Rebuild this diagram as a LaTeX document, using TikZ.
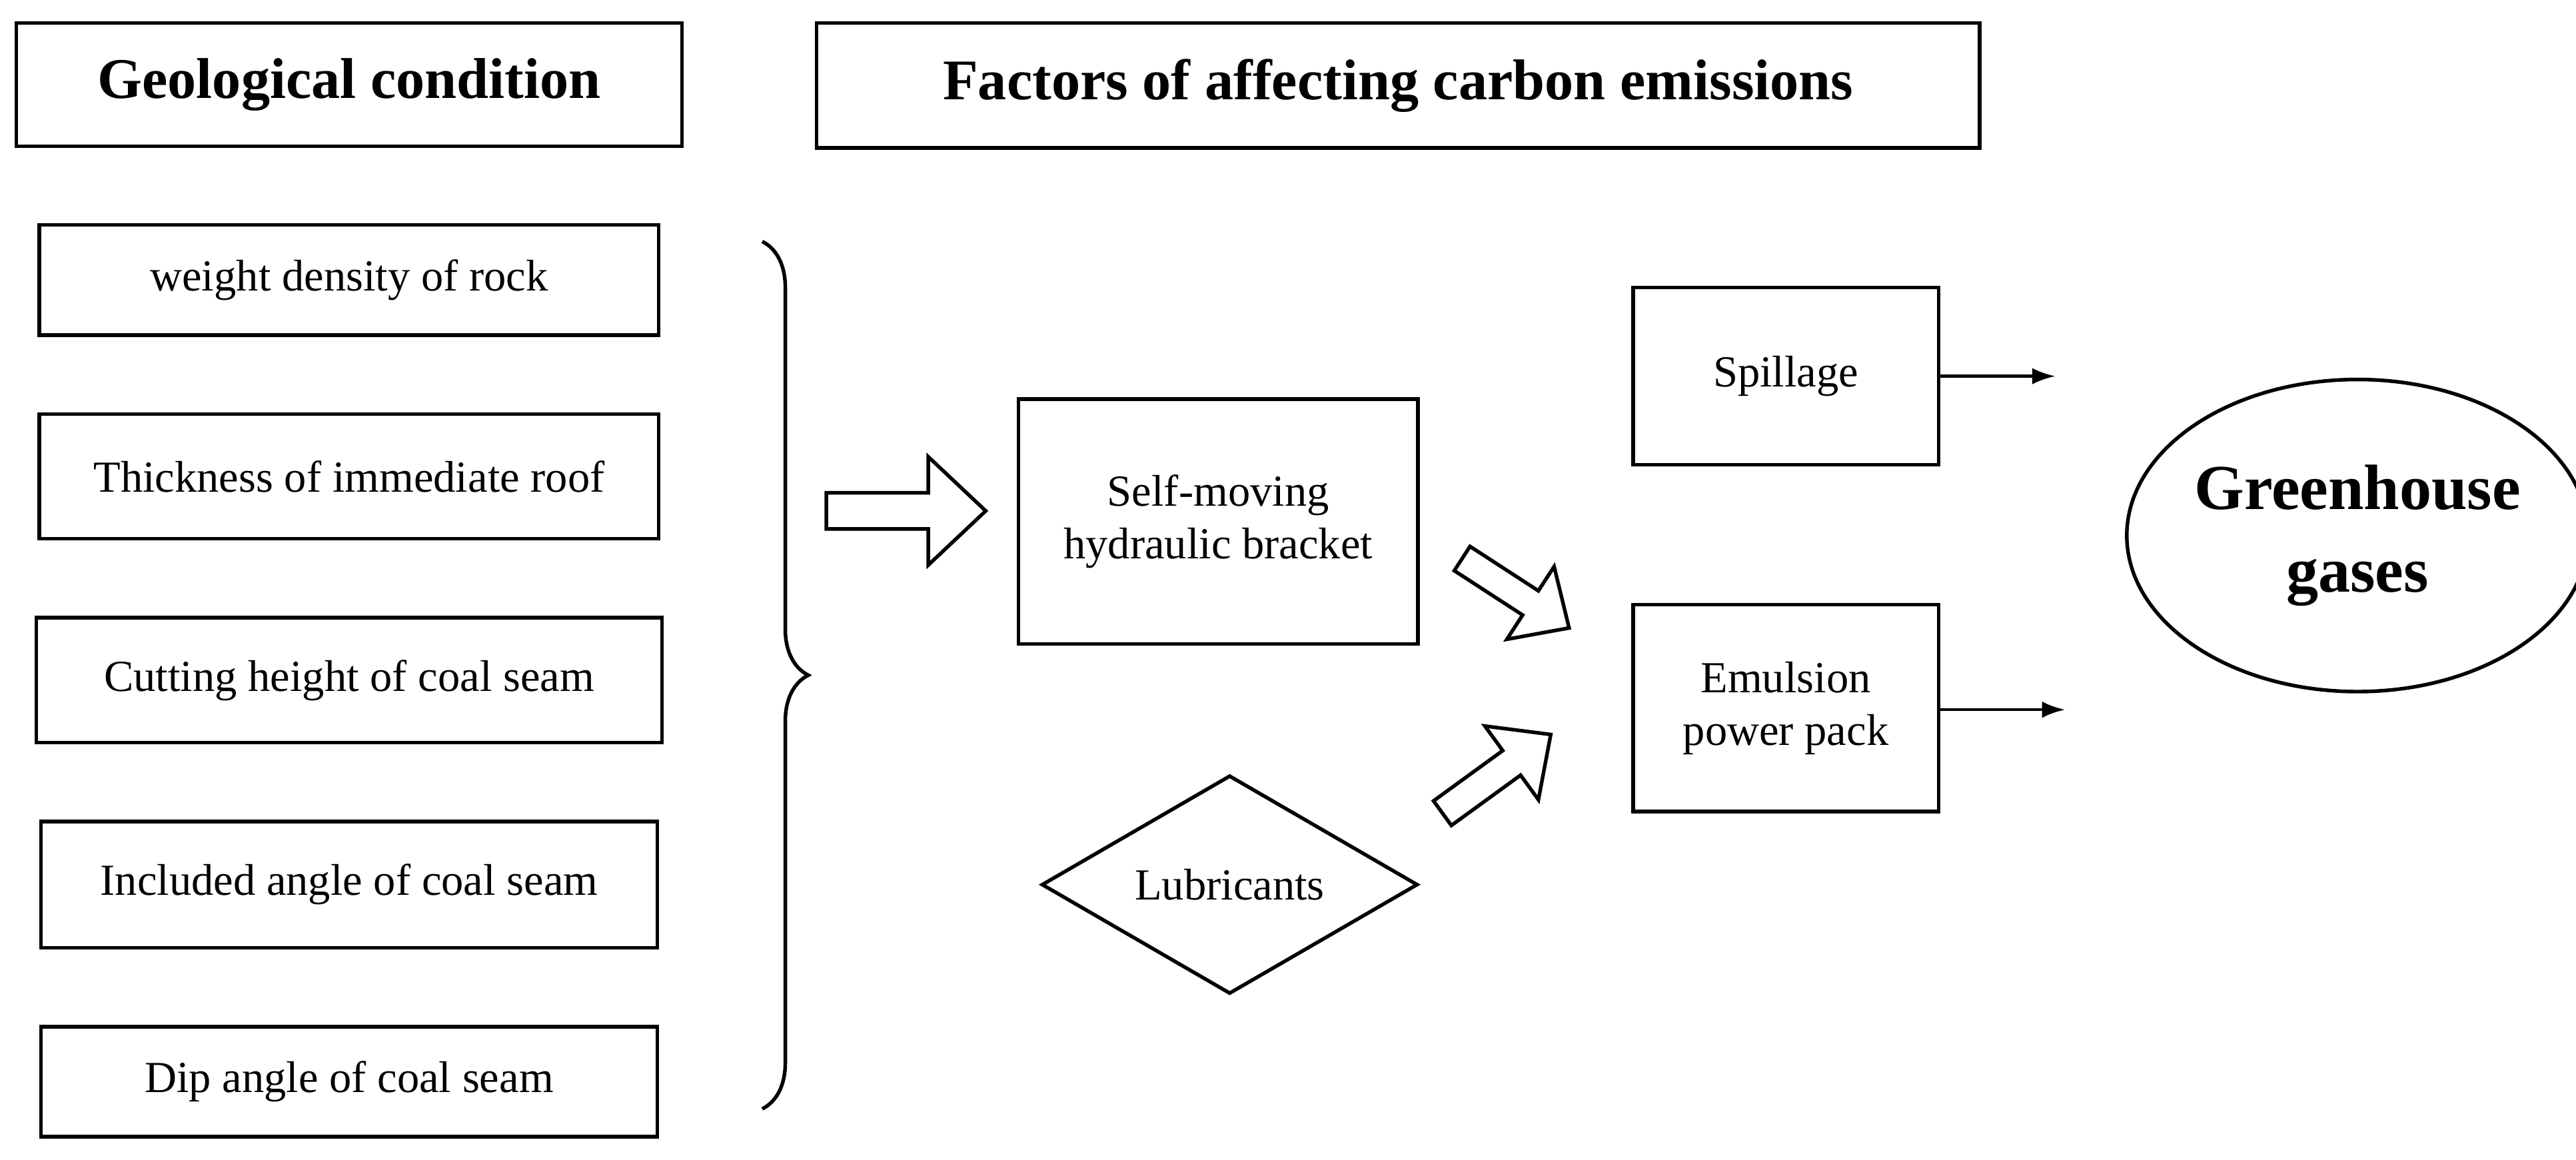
\documentclass[tikz,border=0pt]{standalone}
\usepackage{fontspec}
\setmainfont{Liberation Serif}
\usetikzlibrary{shapes.geometric,decorations.pathreplacing,arrows.meta}
\begin{document}
\begin{tikzpicture}[x=0.5pt,y=-0.5pt,
  box/.style={draw,line width=1.1pt,inner sep=0pt},
  lbl/.style={font=\fontsize{13.5}{16}\selectfont,align=center},
  ttl/.style={font=\bfseries\fontsize{17.5}{20}\selectfont},
  arr/.style={-{Latex[length=7pt,width=5pt]},line width=0.9pt},
  pics/hollow/.style={code={\draw[line width=1.1pt,fill=white] (0,-11)--(62,-11)--(62,-33)--(97,0)--(62,33)--(62,11)--(0,11)--cycle;}}]
\useasboundingbox (0,0) rectangle (1568,706);
\node[box,minimum width=405*0.5pt,minimum height=75*0.5pt,ttl] (geo) at (212.5,51.5) {Geological condition};
\node[box,minimum width=708*0.5pt,minimum height=76*0.5pt,ttl] (fac) at (851,52) {Factors of affecting carbon emissions};
\node[box,minimum width=377*0.5pt,minimum height=67*0.5pt,lbl] (b1) at (212.5,170.5) {weight density of rock};
\node[box,minimum width=377*0.5pt,minimum height=76*0.5pt,lbl] (b2) at (212.5,290) {Thickness of immediate roof};
\node[box,minimum width=381*0.5pt,minimum height=76*0.5pt,lbl] (b3) at (212.5,414) {Cutting height of coal seam};
\node[box,minimum width=375*0.5pt,minimum height=77*0.5pt,lbl] (b4) at (212.5,538.5) {Included angle of coal seam};
\node[box,minimum width=375*0.5pt,minimum height=67*0.5pt,lbl] (b5) at (212.5,658.5) {Dip angle of coal seam};
\coordinate (bt) at (464,147);
\coordinate (bb) at (464,675);
\draw[line width=1.1pt,decorate,decoration={brace,amplitude=14pt}] (bt) -- (bb);
\pic at (503,311) {hollow};
\node[box,minimum width=243*0.5pt,minimum height=149*0.5pt,lbl] (smh) at (741.5,317.5) {Self-moving\\hydraulic bracket};
\node[draw,diamond,aspect=1.72,line width=1.1pt,minimum width=229*0.5pt,minimum height=133*0.5pt,inner sep=0pt,lbl] (lub) at (748.5,538.5) {Lubricants};
\pic[rotate=-33,scale=0.8] at (890,340) {hollow};
\pic[rotate=36,scale=0.84] at (878,495) {hollow};
\node[box,minimum width=186*0.5pt,minimum height=108*0.5pt,lbl] (sp) at (1087,229) {Spillage};
\node[box,minimum width=186*0.5pt,minimum height=126*0.5pt,lbl] (em) at (1087,431) {Emulsion\\power pack};
\coordinate (e1) at (1251,229);
\coordinate (e2) at (1257,432);
\draw[arr] (sp.east) -- (e1);
\draw[arr] (em.east|-e2) -- (e2);
\node[draw,ellipse,line width=1.1pt,minimum width=250*0.5pt,minimum height=190*0.5pt,inner sep=0pt,align=center,font=\bfseries\fontsize{19.5}{25}\selectfont] (gh) at (1435,326) {Greenhouse\\gases};
\end{tikzpicture}
\end{document}
